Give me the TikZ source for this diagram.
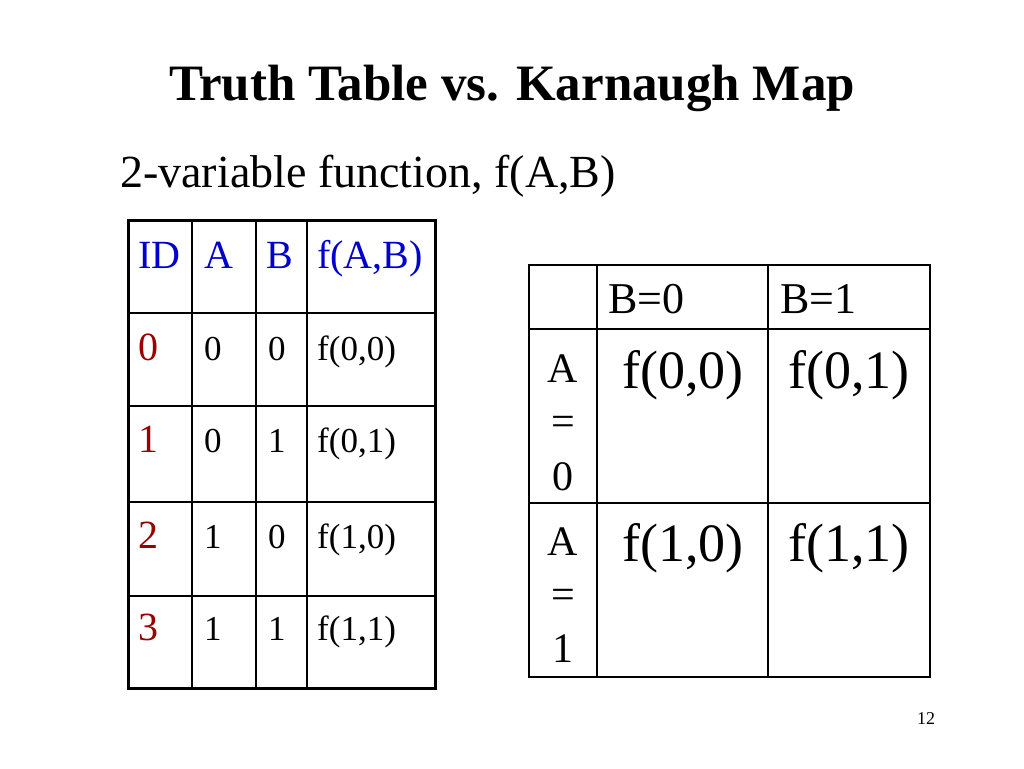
\documentclass[tikz,border=0pt]{standalone}
\usepackage{fontspec}
\setmainfont{Liberation Serif}
\begin{document}
\begin{tikzpicture}[x=1pt,y=-1pt,
  thin line/.style={line width=1.5pt},
  thick line/.style={line width=3pt},
  cell/.style={anchor=base west,inner sep=0pt,font=\fontsize{40}{40}\selectfont},
  small/.style={anchor=base west,inner sep=0pt,font=\fontsize{35}{35}\selectfont},
  big/.style={anchor=base west,inner sep=0pt,font=\fontsize{54}{54}\selectfont},
  mid/.style={anchor=base,inner sep=0pt,font=\fontsize{42}{42}\selectfont},
  hdr/.style={cell,text=blue!80!black},
  idc/.style={cell,text=red!60!black}]
\useasboundingbox[fill=white] (0,0) rectangle (1024,768);
\node[anchor=base,inner sep=0pt,font=\fontsize{51}{51}\selectfont\bfseries] (title) at (512,100) {Truth Table vs. Karnaugh Map};
\node[anchor=base west,inner sep=0pt,font=\fontsize{46}{46}\selectfont] (sub) at (120,187) {2-variable function, f(A,B)};
% left table
\foreach \y in {313,406,502,596} \draw[thin line] (128,\y) -- (435,\y);
\foreach \x in {192,256,307} \draw[thin line] (\x,220) -- (\x,688);
\draw[thick line] (128,220) rectangle (435,688);
\node[hdr] (h1) at (138,268) {ID};
\node[hdr] (h2) at (204,268) {A};
\node[hdr] (h3) at (266,268) {B};
\node[hdr] (h4) at (317,268) {f(A,B)};
\foreach \i/\a/\b/\yy in {0/0/0/360,1/0/1/452,2/1/0/548,3/1/1/640}{
  \node[idc] (id\i) at (138,\yy) {\i};
  \node[small] (a\i) at (204,\yy) {\a};
  \node[small] (b\i) at (268,\yy) {\b};
  \node[small] (f\i) at (317,\yy) {f(\a,\b)};
}
% K-map
\draw[thin line] (529,265) rectangle (930,677);
\draw[thin line] (529,329) -- (930,329);
\draw[thin line] (529,503) -- (930,503);
\draw[thin line] (597,265) -- (597,677);
\draw[thin line] (768,265) -- (768,677);
\node[cell,font=\fontsize{44}{44}\selectfont] (b0) at (608,313) {B=0};
\node[cell,font=\fontsize{44}{44}\selectfont] (b1) at (780,313) {B=1};
\node[mid] (ra1) at (563,382) {A};
\node[mid] (ra2) at (563,435) {=};
\node[mid] (ra3) at (563,490) {0};
\node[mid] (rb1) at (563,555) {A};
\node[mid] (rb2) at (563,608) {=};
\node[mid] (rb3) at (563,662) {1};
\node[big] (k00) at (622,388) {f(0,0)};
\node[big] (k01) at (788,388) {f(0,1)};
\node[big] (k10) at (622,561) {f(1,0)};
\node[big] (k11) at (788,561) {f(1,1)};
\node[anchor=base,inner sep=0pt,font=\fontsize{18}{18}\selectfont] (pg) at (926,724) {12};
\end{tikzpicture}
\end{document}
